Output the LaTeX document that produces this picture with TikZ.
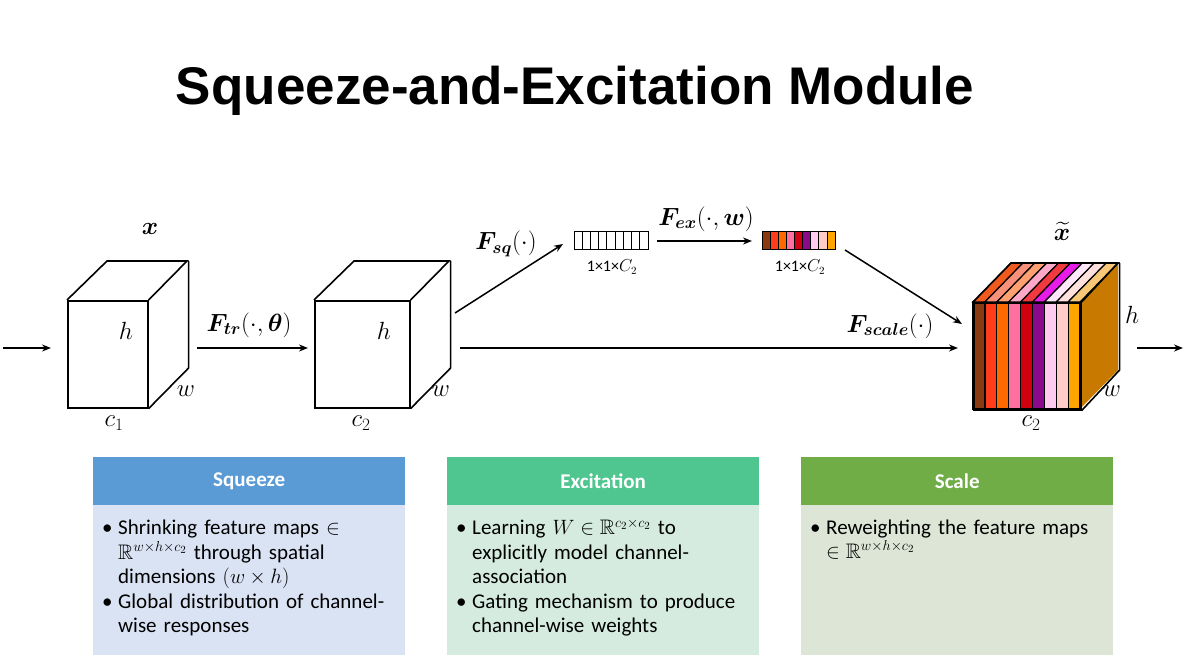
\documentclass[tikz,border=0pt]{standalone}
\usepackage{amsmath,amssymb,bm}
\usepackage{fontspec}
\setmainfont{Carlito}
\newfontfamily\titlefont{Liberation Sans}
\usetikzlibrary{arrows.meta}
\definecolor{sqhead}{HTML}{5B9BD5}
\definecolor{sqbody}{HTML}{DAE3F3}
\definecolor{exhead}{HTML}{4FC690}
\definecolor{exbody}{HTML}{D5EBE0}
\definecolor{schead}{HTML}{70AD47}
\definecolor{scbody}{HTML}{DDE6D6}
\definecolor{sideface}{HTML}{C87A00}
\definecolor{cA}{HTML}{8B3A0F}
\definecolor{cB}{HTML}{FF3D1A}
\definecolor{cC}{HTML}{FF6A00}
\definecolor{cD}{HTML}{FF6F9F}
\definecolor{cE}{HTML}{D00010}
\definecolor{cF}{HTML}{8B0A8B}
\definecolor{cG}{HTML}{FFCCF0}
\definecolor{cH}{HTML}{FFCCC8}
\definecolor{cI}{HTML}{FFA500}
\definecolor{tA}{HTML}{F05A1E}
\definecolor{tB}{HTML}{F8907A}
\definecolor{tC}{HTML}{FFA070}
\definecolor{tD}{HTML}{FFA8C8}
\definecolor{tE}{HTML}{F03A40}
\definecolor{tF}{HTML}{E81CE8}
\definecolor{tG}{HTML}{FFE8F8}
\definecolor{tH}{HTML}{FFE0DC}
\definecolor{tI}{HTML}{F8C878}
\newcommand{\bitem}[1]{\par\noindent\hangindent=16pt\hangafter=1\hbox to 16pt{\textbullet\hfil}#1\par}
\begin{document}
\begin{tikzpicture}[x=1pt,y=-1pt,
  cube/.style={draw=black,line width=1.6pt,line join=miter},
  arr/.style={line width=1.5pt,-{Stealth[length=9pt,width=7pt]}},
  mlab/.style={font=\fontsize{24}{26}\selectfont,inner sep=0pt},
  flab/.style={font=\fontsize{26}{28}\selectfont,inner sep=0pt},
  slab/.style={font=\fontsize{16}{18}\selectfont,inner sep=0pt},
  head/.style={minimum width=312pt,minimum height=48pt,anchor=north west,inner sep=0pt,text=white,font=\bfseries\fontsize{21}{23}\selectfont},
  body/.style={minimum width=312pt,minimum height=150pt,anchor=north west,inner sep=0pt},
  btext/.style={anchor=north west,inner sep=0pt,text width=305pt,font=\fontsize{21}{24.5}\selectfont}]
\useasboundingbox[fill=white] (0,0) rectangle (1190,668);

% title
\node[font=\titlefont\bfseries\fontsize{53}{60}\selectfont,inner sep=0pt] (title) at (575,91) {Squeeze-and-Excitation Module};

% cube 1
\node[cube,minimum width=80pt,minimum height=107pt,anchor=north west,inner sep=0pt] (c1) at (67,300) {};
\draw[cube] (c1.north west) -- ++(40,-39) -- ++(80,0) -- (c1.north east);
\draw[cube] (c1.north east) ++(40,-39) -- ++(0,107) -- (c1.south east);
\node[mlab] (x1) at (150,229) {$\bm{x}$};
\node[mlab] (h1) at (126,331) {$h$};
\node[mlab] (w1) at (186,391) {$w$};
\node[mlab] (k1) at (114,423) {$c_1$};

% cube 2
\node[cube,minimum width=95pt,minimum height=107pt,anchor=north west,inner sep=0pt] (c2) at (314,300) {};
\draw[cube] (c2.north west) -- ++(40,-39) -- ++(95,0) -- (c2.north east);
\draw[cube] (c2.north east) ++(40,-39) -- ++(0,107) -- (c2.south east);
\node[mlab] (h2) at (384,331) {$h$};
\node[mlab] (w2) at (441,391) {$w$};
\node[mlab] (k2) at (361,423) {$c_2$};

% vectors
\node[draw=black,line width=1pt,minimum width=74pt,minimum height=18pt,anchor=north west,inner sep=0pt] (v1) at (574,231) {};
\foreach \i in {1,...,8}{\draw[line width=0.8pt] (574+\i*8.222,231) -- (574+\i*8.222,249);}
\foreach \c [count=\i from 0] in {cA,cB,cC,cD,cE,cF,cG,cH,cI}{
  \fill[\c] (762+\i*8.111,231) rectangle (762+\i*8.111+8.111,249);
  \draw[line width=0.8pt] (762+\i*8.111,231) -- (762+\i*8.111,249);}
\node[draw=black,line width=1pt,minimum width=73pt,minimum height=18pt,anchor=north west,inner sep=0pt] (v2) at (762,231) {};
\node[slab] (l1) at (612,267) {1×1×$C_2$};
\node[slab] (l2) at (800,267) {1×1×$C_2$};

% cube 3
\def\sw{11.889}
\fill[sideface] (1080,302) -- (1118,263) -- (1118,370) -- (1080,409) -- cycle;
\foreach \c/\t [count=\i from 0] in {cA/tA,cB/tB,cC/tC,cD/tD,cE/tE,cF/tF,cG/tG,cH/tH,cI/tI}{
  \filldraw[fill=\c,draw=black,line width=1.2pt] (973+\i*\sw,302) rectangle (973+\i*\sw+\sw,409);
  \filldraw[fill=\t,draw=black,line width=1.2pt] (973+\i*\sw,302) -- ++(38,-39) -- ++(\sw,0) -- (973+\i*\sw+\sw,302) -- cycle;}
\node[cube,minimum width=107pt,minimum height=107pt,anchor=north west,inner sep=0pt] (c3) at (973,302) {};
\draw[cube] (c3.north west) -- ++(38,-39) -- ++(107,0) -- (c3.north east);
\draw[cube] (c3.north east) ++(38,-39) -- ++(0,107) -- (c3.south east);
\node[mlab] (x3) at (1062,231) {$\widetilde{\bm{x}}$};
\node[mlab] (h3) at (1132,315) {$h$};
\node[mlab] (w3) at (1112,391) {$w$};
\node[mlab] (k3) at (1031,423) {$c_2$};

% connectors
\coordinate (in0) at (3,348);
\coordinate (in1) at (51,348);
\coordinate (out0) at (1137,348);
\coordinate (out1) at (1183,348);
\coordinate (t0) at (197,348);
\coordinate (t1) at (308,348);
\coordinate (q0) at (455,313);
\coordinate (q1) at (563,244);
\coordinate (e0) at (657,241);
\coordinate (e1) at (752,241);
\coordinate (g0) at (845,250);
\coordinate (g1) at (962,324);
\coordinate (s0) at (460,348);
\coordinate (s1) at (958,348);
\draw[arr] (in0) -- (in1);
\draw[arr] (t0) -- (t1);
\draw[arr] (q0) -- (q1);
\draw[arr] (e0) -- (e1);
\draw[arr] (g0) -- (g1);
\draw[arr] (s0) -- (s1);
\draw[arr] (out0) -- (out1);
\node[flab] (ftr) at (249,325) {$\bm{F}_{\bm{tr}}(\cdot,\bm{\theta})$};
\node[flab] (fsq) at (506,244) {$\bm{F}_{\bm{sq}}(\cdot)$};
\node[flab] (fex) at (706,219) {$\bm{F}_{\bm{ex}}(\cdot,\bm{w})$};
\node[flab] (fsc) at (890,326) {$\bm{F}_{\bm{scale}}(\cdot)$};

% panels
\node[head,fill=sqhead] (sqh) at (93,457) {Squeeze};
\node[body,fill=sqbody] (sqb) at (93,505) {};
\node[btext] (sqt) at (102,510) {%
\bitem{Shrinking feature maps $\in$\newline $\mathbb{R}^{w\times h\times c_2}$ through spatial\newline dimensions $(w\times h)$}%
\bitem{Global distribution of channel-\newline wise responses}};

\node[head,fill=exhead] (exh) at (447,457) {Excitation};
\node[body,fill=exbody] (exb) at (447,505) {};
\node[btext] (ext) at (456,510) {%
\bitem{Learning $W\in\mathbb{R}^{c_2\times c_2}$ to\newline explicitly model channel-\newline association}%
\bitem{Gating mechanism to produce\newline channel-wise weights}};

\node[head,fill=schead] (sch) at (801,457) {Scale};
\node[body,fill=scbody] (scb) at (801,505) {};
\node[btext,font=\fontsize{21}{24}\selectfont] (sct) at (810,510) {%
\bitem{Reweighting the feature maps\newline $\in\mathbb{R}^{w\times h\times c_2}$}};
\end{tikzpicture}
\end{document}
